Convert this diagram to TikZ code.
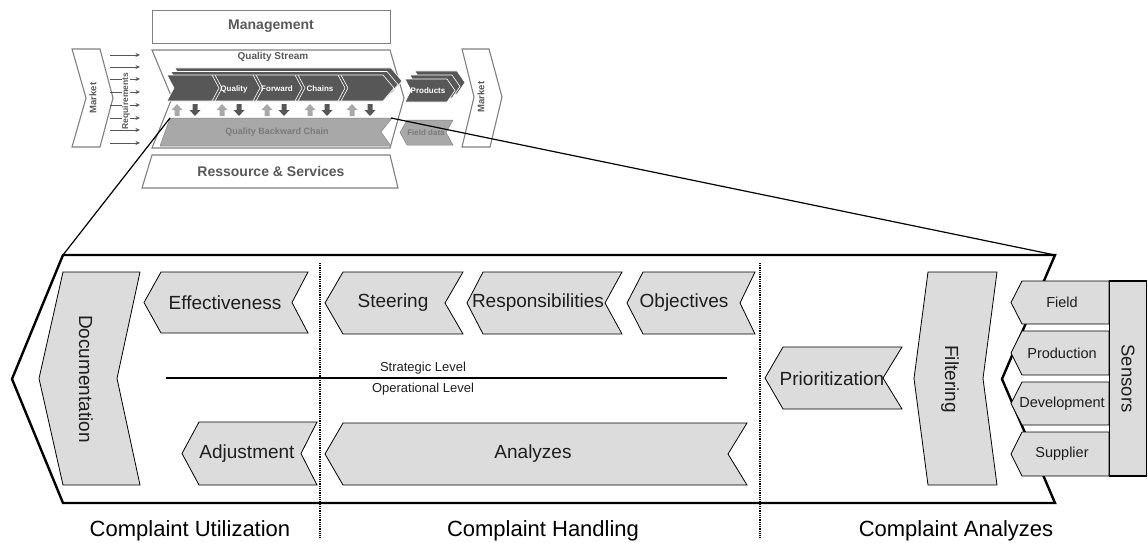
\documentclass[tikz,border=0pt]{standalone}
\usepackage{fontspec}
\setmainfont{Liberation Sans}
\usetikzlibrary{arrows.meta}

\definecolor{chevfill}{HTML}{DCDCDC}
\definecolor{miniline}{HTML}{808080}
\definecolor{minidark}{HTML}{575757}
\definecolor{minimid}{HTML}{A8A8A8}
\definecolor{minitext}{HTML}{595959}
\definecolor{inktext}{HTML}{1E1E1E}

\newcommand\fsz[1]{\fontsize{#1}{#1}\selectfont}

% left-pointing chevron: x-left, x-right, y-top, y-bottom, tip depth, notch depth
\newcommand\lchev[7]{\draw[#1] (#2,#4) -- (#3,#4) -- ({#3-#7},{(#4+#5)/2}) -- (#3,#5) -- (#2,#5) -- ({#2-#6},{(#4+#5)/2}) -- cycle;}
% right-pointing chevron: x-left, x-right, y-top, y-bottom, notch depth, tip depth
\newcommand\rchev[7]{\draw[#1] (#2,#4) -- (#3,#4) -- ({#3+#7},{(#4+#5)/2}) -- (#3,#5) -- (#2,#5) -- ({#2+#6},{(#4+#5)/2}) -- cycle;}
% small block arrows of the exchange row
\newcommand\uparr[1]{\fill[minimid] (#1-2.5,116) -- (#1-2.5,110) -- (#1-5.5,110) -- (#1,104) -- (#1+5.5,110) -- (#1+2.5,110) -- (#1+2.5,116) -- cycle;}
\newcommand\dnarr[1]{\fill[minidark] (#1-2.5,104) -- (#1-2.5,110) -- (#1-5.5,110) -- (#1,116) -- (#1+5.5,110) -- (#1+2.5,110) -- (#1+2.5,104) -- cycle;}

\tikzset{
  chev/.style={draw=black, line width=0.8pt, fill=chevfill},
  outline/.style={draw=black, line width=2.4pt, line join=miter},
  phase/.style={draw=black, line width=1.1pt, dash pattern=on 1pt off 0.8pt},
  lbl/.style={font=\fsz{19}, text=inktext, inner sep=0pt},
  sensorlbl/.style={font=\fsz{14.5}, text=inktext, inner sep=0pt},
  levellbl/.style={font=\fsz{13}, text=inktext, inner sep=0pt},
  phaselbl/.style={font=\fsz{22}, text=black, inner sep=0pt},
  minibox/.style={draw=miniline, line width=1.1pt, fill=white},
  minititle/.style={font=\bfseries\fsz{14}, text=minitext, inner sep=0pt},
  minidarkchev/.style={draw=white, line width=0.6pt, fill=minidark},
  minimidchev/.style={draw=minimid!80!black, line width=0.5pt, fill=minimid},
  minismall/.style={font=\bfseries\fsz{8}, text=white, inner sep=0pt},
  reqarrow/.style={draw=minidark, line width=0.8pt, -{Stealth[length=4.5pt,width=4pt]}},
  zoomline/.style={draw=black, line width=1.2pt}
}

\begin{document}
\begin{tikzpicture}[x=1pt,y=-1pt]
\useasboundingbox (0,0) rectangle (1148,543);

% ---------------- overview of the quality stream ----------------
\node[minibox, minimum width=238pt, minimum height=33pt, anchor=north west] (mgmt) at (152,10) {};
\node[minititle] (mgmtlbl) at (271,26.5) {Management};

\draw[minibox] (152,50) -- (390,50) -- (404,98) -- (390,148) -- (152,148) -- (172,98) -- cycle;
\node[font=\bfseries\fsz{10}, text=minitext, inner sep=0pt] (qs) at (273,57) {Quality Stream};

% stacked forward chain
\rchev{minidarkchev}{175}{391}{68}{94}{7}{11}
\rchev{minidarkchev}{171}{387}{71.5}{97.5}{7}{11}
\rchev{minidarkchev}{167}{383}{75}{101}{7}{11}
\foreach \sx in {212,253,295,338}{
  \draw[white, line width=0.6pt] (\sx,75) -- (\sx+7,88) -- (\sx,101);
  \draw[white, line width=0.6pt] (\sx+3,75) -- (\sx+10,88) -- (\sx+3,101);
}
\node[minismall] (fq) at (234,89) {Quality};
\node[minismall] (ff) at (277,89) {Forward};
\node[minismall] (fc) at (320,89) {Chains};

% stacked products
\rchev{minidarkchev}{415}{457}{71}{94}{6}{8}
\rchev{minidarkchev}{410}{452}{75}{98}{6}{8}
\rchev{minidarkchev}{405}{447}{79}{102}{6}{8}
\node[minismall] (prod) at (428,90.5) {Products};

% exchange arrows
\foreach \ux in {177,222,267,310,352}{\uparr{\ux}}
\foreach \dx in {195,239,284,327,370}{\dnarr{\dx}}

% backward chain and field data
\draw[minimidchev] (170,118) -- (392,118) -- (381,132) -- (391,146) -- (160,146) -- cycle;
\node[font=\bfseries\fsz{9}, text=minitext!80, inner sep=0pt] (bw) at (277,132) {Quality Backward Chain};
\lchev{minimidchev}{407}{453}{120}{145}{7}{7}
\node[font=\bfseries\fsz{8}, text=minitext!80, inner sep=0pt] (fd) at (426,132.5) {Field data};

\draw[minibox] (152,155) -- (390,155) -- (398,188) -- (142,188) -- cycle;
\node[minititle] (res) at (271,171) {Ressource \& Services};

% markets and requirements
\draw[minibox] (72,49) -- (100,49) -- (113,98) -- (100,147) -- (72,147) -- (86,98) -- cycle;
\node[font=\bfseries\fsz{9.5}, text=minitext, inner sep=0pt, rotate=90] (mkl) at (93,98) {Market};
\draw[minibox] (462,49) -- (489,49) -- (502,97) -- (490,147) -- (462,147) -- (474,97) -- cycle;
\node[font=\bfseries\fsz{9.5}, text=minitext, inner sep=0pt, rotate=90] (mkr) at (481,97) {Market};
\foreach \ry in {55,67,79,92,105,118,130,143}{
  \draw[reqarrow] (110,\ry) -- (140,\ry);
}
\node[font=\bfseries\fsz{8.5}, text=minitext, fill=white, inner xsep=0.6pt, inner ysep=0.3pt, rotate=90] (req) at (126,101) {Requirements};

% ---------------- detailed complaint process ----------------
\coordinate (bigTL) at (63,255);
\coordinate (bigTR) at (1055,255);
\coordinate (bwTL) at (170,118);
\coordinate (bwTR) at (391,118);
\draw[zoomline] (bigTL) -- (bwTL);
\draw[zoomline] (bwTR) -- (bigTR);

\draw[outline] (bigTL) -- (bigTR) -- (1002,379) -- (1055,503) -- (63,503) -- (12,379) -- cycle;

% phase separators and level line
\coordinate (sepAt) at (320,263);
\coordinate (sepAb) at (320,537);
\coordinate (sepBt) at (760,263);
\coordinate (sepBb) at (760,537);

% chevrons of the process
\lchev{chev}{63}{140}{272}{485}{24}{23}
\node[lbl, rotate=-90] (doc) at (86,379) {Documentation};

\lchev{chev}{161}{308}{272}{333}{17}{16}
\node[lbl] (eff) at (225,303) {Effectiveness};
\lchev{chev}{199}{317}{422}{485}{17}{16}
\node[lbl] (adj) at (247,454) {Adjustment};

\lchev{chev}{343}{463}{272}{334}{18}{18}
\node[lbl] (ste) at (393,303) {Steering};
\lchev{chev}{483}{622}{272}{334}{16}{17}
\node[lbl] (resp) at (538,303) {Responsibilities};
\lchev{chev}{643}{755}{272}{334}{16}{15}
\node[lbl] (obj) at (684,303) {Objectives};
\lchev{chev}{343}{747}{423}{485}{18}{19}
\node[lbl] (ana) at (533,454) {Analyzes};

\lchev{chev}{783}{902}{347}{409}{18}{19}
\node[lbl] (prio) at (832,379) {Prioritization};

\lchev{chev}{928}{997}{272}{485}{14}{14}
\node[lbl, rotate=-90] (filt) at (950,379) {Filtering};

% sensors
\lchev{chev}{1022}{1109}{281}{324}{11}{0}
\node[sensorlbl] (field) at (1062,302.5) {Field};
\lchev{chev}{1022}{1109}{331}{375}{11}{0}
\node[sensorlbl] (prodn) at (1062,353) {Production};
\lchev{chev}{1022}{1109}{382}{425}{11}{0}
\node[sensorlbl] (dev) at (1062,403.5) {Development};
\lchev{chev}{1022}{1109}{432}{476}{11}{0}
\node[sensorlbl] (sup) at (1062,454) {Supplier};
\node[draw=black, line width=1.4pt, fill=chevfill, minimum width=37pt, minimum height=195pt, inner sep=0pt] (sens) at (1128,378.5) {};
\node[lbl, rotate=-90, font=\fsz{18.5}] (senslbl) at (1128,378.5) {Sensors};

% strategic / operational split
\coordinate (lvlL) at (166,378);
\coordinate (lvlR) at (727,378);
\draw[black, line width=1.6pt] (lvlL) -- (lvlR);
\node[levellbl] (strat) at (423,368) {Strategic Level};
\node[levellbl] (oper) at (423,389) {Operational Level};

\draw[phase] (sepAt) -- (sepAb);
\draw[phase] (sepBt) -- (sepBb);

% phase captions
\node[phaselbl] (cu) at (190,531) {Complaint Utilization};
\node[phaselbl] (ch) at (543,531) {Complaint Handling};
\node[phaselbl] (ca) at (956,531) {Complaint Analyzes};
\end{tikzpicture}
\end{document}
